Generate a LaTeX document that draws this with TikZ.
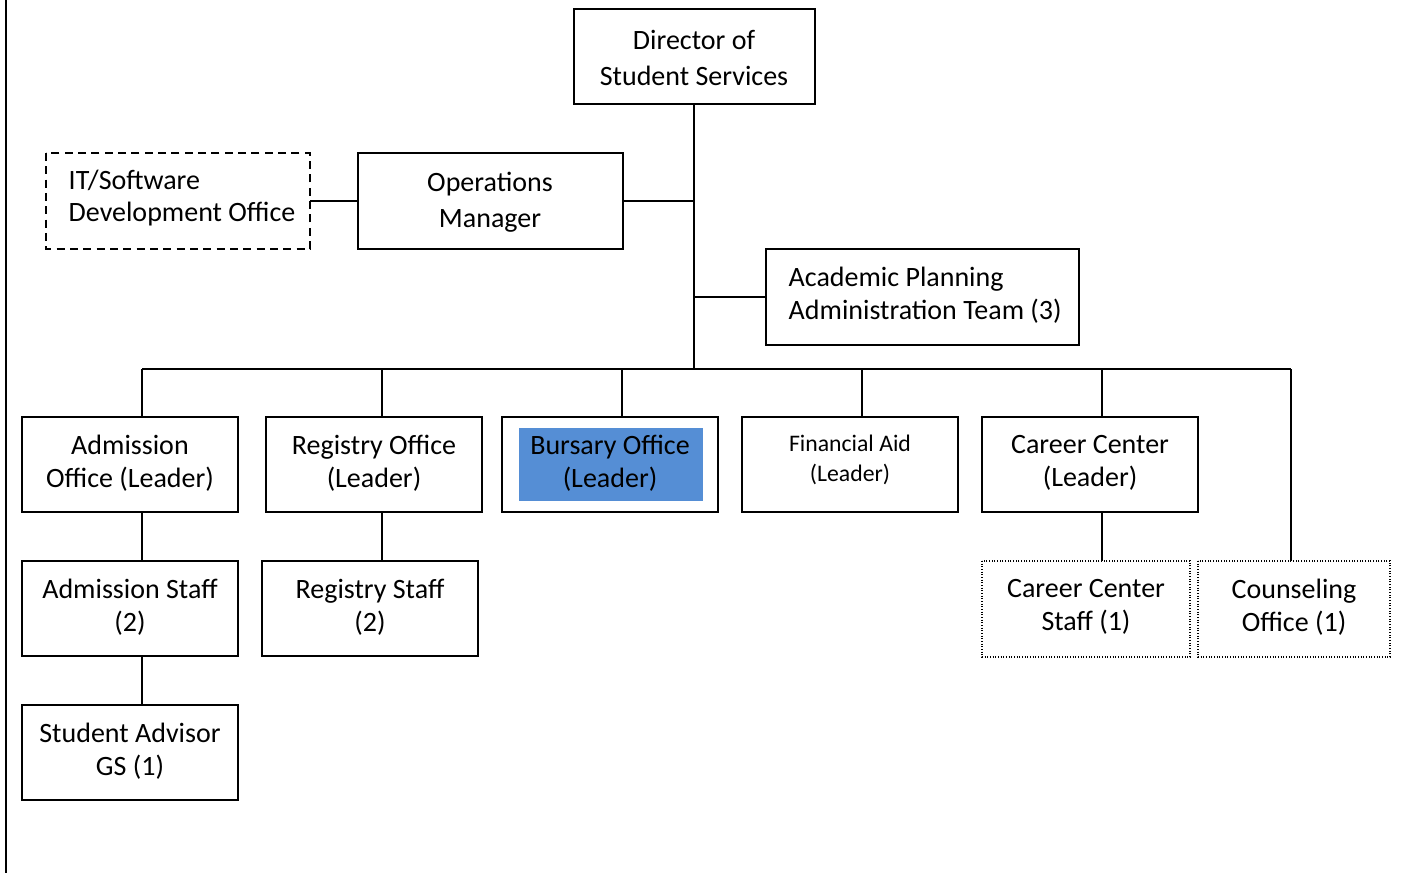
\documentclass[tikz,border=0pt]{standalone}
\usepackage{fontspec}
\setmainfont{Carlito}
\definecolor{bursary}{HTML}{558ED5}
\begin{document}
\begin{tikzpicture}[x=0.75pt,y=-0.75pt,
  box/.style={draw,line width=1.3pt,inner sep=0pt},
  dashbox/.style={draw,dash pattern=on 6pt off 4pt,line width=1.3pt,inner sep=0pt},
  dotbox/.style={draw,dash pattern=on 0.8pt off 1.2pt,line width=1pt,inner sep=0pt},
  lbl/.style={align=center,font=\fontsize{21}{24.5}\selectfont},
  lblwide/.style={align=center,font=\fontsize{21}{27}\selectfont},
  lblleft/.style={align=left,font=\fontsize{21}{24.5}\selectfont},
  conn/.style={line width=1.3pt}]
\useasboundingbox (0,0) rectangle (1426,873);
\draw[line width=1.5pt] (6,0) -- (6,873);
% boxes
\draw[box] (574,9) rectangle (815,104);
\node[lblwide] (dir) at (694,58) {Director of\\Student Services};
\draw[box] (358,153) rectangle (623,249);
\node[lblwide] (ops) at (490,202) {Operations\\Manager};
\draw[dashbox] (46,153) rectangle (310,249);
\node[lblleft,anchor=west] (it) at (64,198) {IT/Software\\Development Office};
\draw[box] (766,249) rectangle (1079,345);
\node[lblleft,anchor=west] (acad) at (784,295) {Academic Planning\\Administration Team (3)};
% row 1
\draw[box] (22,417) rectangle (238,512);
\node[lbl] (adm) at (130,463) {Admission\\Office (Leader)};
\draw[box] (266,417) rectangle (482,512);
\node[lbl] (reg) at (374,463) {Registry Office\\(Leader)};
\draw[box] (502,417) rectangle (718,512);
\fill[bursary] (519,428) rectangle (703,501);
\node[lbl] (bur) at (610,463) {Bursary Office\\(Leader)};
\draw[box] (742,417) rectangle (958,512);
\node[align=center,font=\fontsize{17.8}{23}\selectfont] (fin) at (850,460) {Financial Aid\\(Leader)};
\draw[box] (982,417) rectangle (1198,512);
\node[lbl] (car) at (1090,463) {Career Center\\(Leader)};
% row 2
\draw[box] (22,561) rectangle (238,656);
\node[lbl] (admst) at (130,607) {Admission Staff\\(2)};
\draw[box] (262,561) rectangle (478,656);
\node[lbl] (regst) at (370,607) {Registry Staff\\(2)};
\draw[dotbox] (982,561) rectangle (1190,657);
\node[lbl] (carst) at (1086,607) {Career Center\\Staff (1)};
\draw[dotbox] (1198,561) rectangle (1390,657);
\node[lbl] (coun) at (1294,607) {Counseling\\Office (1)};
% row 3
\draw[box] (22,705) rectangle (238,800);
\node[lbl] (adv) at (130,751) {Student Advisor\\GS (1)};
% connectors
\draw[conn] (694,104) -- (694,369);
\draw[conn] (623,201) -- (694,201);
\draw[conn] (310,201) -- (358,201);
\draw[conn] (694,297) -- (766,297);
\draw[conn] (142,369) -- (1291,369);
\draw[conn] (142,369) -- (142,417);
\draw[conn] (382,369) -- (382,417);
\draw[conn] (622,369) -- (622,417);
\draw[conn] (862,369) -- (862,417);
\draw[conn] (1102,369) -- (1102,417);
\draw[conn] (1291,369) -- (1291,561);
\draw[conn] (142,512) -- (142,561);
\draw[conn] (142,656) -- (142,705);
\draw[conn] (382,512) -- (382,561);
\draw[conn] (1102,512) -- (1102,561);
\end{tikzpicture}
\end{document}
